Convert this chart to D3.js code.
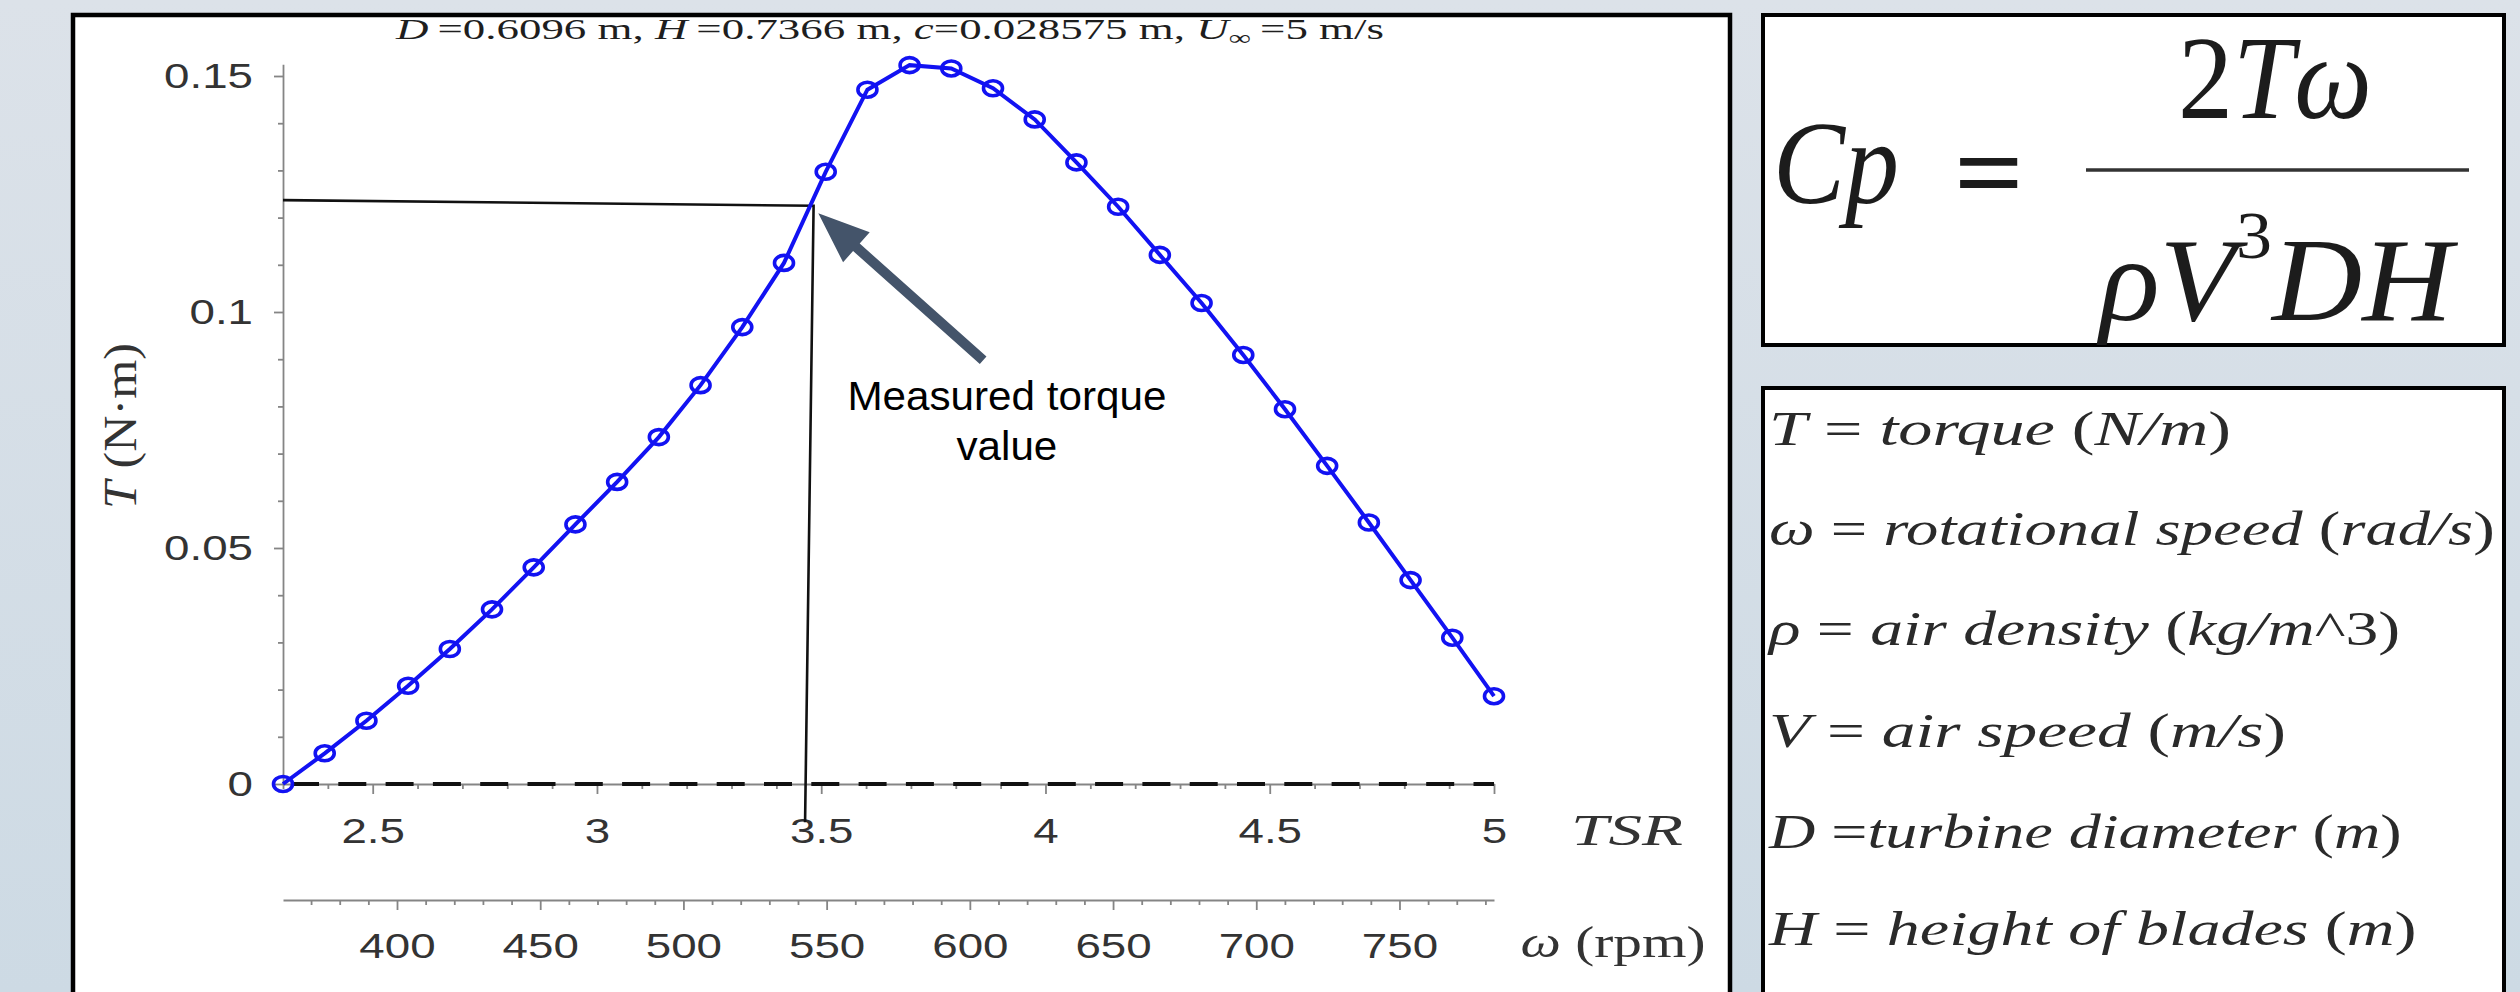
<!DOCTYPE html>
<html><head><meta charset="utf-8">
<script src="https://cdnjs.cloudflare.com/ajax/libs/d3/7.8.5/d3.min.js"></script>
<style>html,body{margin:0;padding:0;overflow:hidden;background:#d6dee7}</style>
</head><body><svg id="c" width="2520" height="992" xmlns="http://www.w3.org/2000/svg"></svg>
<script>
// ---------------- DATA ----------------
const tsr = [2.300, 2.393, 2.486, 2.579, 2.672, 2.766, 2.859, 2.952, 3.045, 3.138,
             3.231, 3.324, 3.417, 3.510, 3.603, 3.697, 3.790, 3.883, 3.976, 4.069,
             4.162, 4.255, 4.348, 4.441, 4.534, 4.628, 4.721, 4.814, 4.907, 5.000];
const torque = [0.0000, 0.0065, 0.0134, 0.0208, 0.0286, 0.0370, 0.0459, 0.0550, 0.0640, 0.0735,
                0.0845, 0.0968, 0.1104, 0.1297, 0.1471, 0.1523, 0.1516, 0.1474, 0.1408, 0.1317,
                0.1223, 0.1121, 0.1019, 0.0909, 0.0794, 0.0674, 0.0554, 0.0432, 0.0310, 0.0186];
const tsrTicks = [2.5, 3, 3.5, 4, 4.5, 5];
const tsrTickLabels = ["2.5", "3", "3.5", "4", "4.5", "5"];
const tsrMinorTicks = [2.3,2.4,2.6,2.7,2.8,2.9,3.1,3.2,3.3,3.4,3.6,3.7,3.8,3.9,4.1,4.2,4.3,4.4,4.6,4.7,4.8,4.9];
const torqueTicks = [0, 0.05, 0.1, 0.15];
const torqueTickLabels = ["0", "0.05", "0.1", "0.15"];
const torqueMinorTicks = [0.01,0.02,0.03,0.04,0.06,0.07,0.08,0.09,0.11,0.12,0.13,0.14];
const rpmTicks = [400, 450, 500, 550, 600, 650, 700, 750];
const rpmTickLabels = ["400", "450", "500", "550", "600", "650", "700", "750"];
const rpmMinorTicks = [370,380,390,410,420,430,440,460,470,480,490,510,520,530,540,560,570,580,590,
                       610,620,630,640,660,670,680,690,710,720,730,740,760,770,780];
const rpmDomain = [360.2, 783.0];
const tsrDomain = [2.3, 5.0];
const torqueDomain = [0, 0.1525];
// measured-torque guide lines (TSR, T)
const measuredLine = [[2.300, 0.1237], [3.483, 0.1225], [3.464, -0.0081]];
const arrowTip = [3.4935, 0.1209];
const arrowTail = [3.861, 0.0898];
const noteLines = ["Measured torque", "value"];
const notePos = [[3.914, 0.0792], [3.914, 0.0686]];
const defSymbols = ["T", "\u03c9", "\u03c1", "V", "D", "H"];
const defEquals = [" = ", " = ", " = ", " = ", " =", " = "];
const defWords = ["torque", "rotational speed", "air density", "air speed", "turbine diameter", "height of blades"];
const defUnits = ["N/m", "rad/s", "kg/m", "m/s", "m", "m"];
const defUnitSuffix = ["", "", "^3", "", "", ""];

// ---------------- LAYOUT ----------------
const W = 2520, H = 992;
const svg = d3.select('#c');
const defs = svg.append('defs');
const grad = defs.append('linearGradient').attr('id', 'bg').attr('x1', 0).attr('y1', 0).attr('x2', 0).attr('y2', 1);
grad.append('stop').attr('offset', '0%').attr('stop-color', '#dce2e9');
grad.append('stop').attr('offset', '100%').attr('stop-color', '#cddae4');
svg.append('rect').attr('width', W).attr('height', H).attr('fill', 'url(#bg)');

const SANS = "'Liberation Sans', Arial, Helvetica, sans-serif";
const SERIF = "'Liberation Serif', 'Times New Roman', serif";
const SX = 1.27;

// chart panel
svg.append('rect').attr('x', 73).attr('y', 15).attr('width', 1657).attr('height', 1010)
  .attr('fill', '#fff').attr('stroke', '#000').attr('stroke-width', 4.5);

const x = d3.scaleLinear().domain(tsrDomain).range([283, 1494]);
const y = d3.scaleLinear().domain(torqueDomain).range([784, 784 - 0.1525 * 4720]);
const xr = d3.scaleLinear().domain(rpmDomain).range([283, 1494]);

const axisColor = '#858585', labelColor = '#333';
function styleAxis(g) {
  g.selectAll('path,line').attr('stroke', axisColor).attr('stroke-width', 1.8);
  g.selectAll('text').attr('fill', labelColor).attr('font-family', SANS).attr('font-size', 36);
}

// TSR axis
const gxMinor = svg.append('g').attr('transform', `translate(0,${y(0)})`)
  .call(d3.axisBottom(x).tickValues(tsrMinorTicks).tickSize(5).tickFormat('').tickSizeOuter(0));
gxMinor.select('.domain').remove(); styleAxis(gxMinor);
const gx = svg.append('g').attr('transform', `translate(0,${y(0)})`)
  .call(d3.axisBottom(x).tickValues(tsrTicks).tickSize(10).tickPadding(23)
    .tickFormat((d, i) => tsrTickLabels[i]).tickSizeOuter(0));
styleAxis(gx);
gx.selectAll('text').attr('transform', `scale(${SX},1)`);

// torque axis
const gyMinor = svg.append('g').attr('transform', `translate(${x(tsrDomain[0])},0)`)
  .call(d3.axisLeft(y).tickValues(torqueMinorTicks).tickSize(5).tickFormat('').tickSizeOuter(0));
gyMinor.select('.domain').remove(); styleAxis(gyMinor);
const gy = svg.append('g').attr('transform', `translate(${x(tsrDomain[0])},0)`)
  .call(d3.axisLeft(y).tickValues(torqueTicks).tickSize(9).tickPadding(21)
    .tickFormat((d, i) => torqueTickLabels[i]).tickSizeOuter(0));
styleAxis(gy);
gy.selectAll('text').attr('x', -30 / SX).attr('transform', `scale(${SX},1)`);

// rpm axis
const RPMY = 900;
const grMinor = svg.append('g').attr('transform', `translate(0,${RPMY})`)
  .call(d3.axisBottom(xr).tickValues(rpmMinorTicks).tickSize(5).tickFormat('').tickSizeOuter(0));
grMinor.select('.domain').remove(); styleAxis(grMinor);
const gr = svg.append('g').attr('transform', `translate(0,${RPMY})`)
  .call(d3.axisBottom(xr).tickValues(rpmTicks).tickSize(10).tickPadding(22)
    .tickFormat((d, i) => rpmTickLabels[i]).tickSizeOuter(0));
styleAxis(gr);
gr.selectAll('text').attr('transform', `scale(${SX},1)`);

// zero dashed line
svg.append('line').attr('x1', x(tsrDomain[0])).attr('x2', x(tsrDomain[1]))
  .attr('y1', y(0)).attr('y2', y(0)).attr('stroke', '#111').attr('stroke-width', 4)
  .attr('stroke-dasharray', '28,19.3').attr('stroke-dashoffset', -8);

// measured guide lines
svg.append('path').attr('d', d3.line().x(d => x(d[0])).y(d => y(d[1]))(measuredLine))
  .attr('fill', 'none').attr('stroke', '#111').attr('stroke-width', 2.6);

// curve
const pts = tsr.map((t, i) => [t, torque[i]]);
const BLUE = '#1212f2';
svg.append('path').attr('d', d3.line().x(d => x(d[0])).y(d => y(d[1]))(pts))
  .attr('fill', 'none').attr('stroke', BLUE).attr('stroke-width', 4);
svg.append('g').selectAll('ellipse').data(pts).join('ellipse')
  .attr('cx', d => x(d[0])).attr('cy', d => y(d[1])).attr('rx', 9.5).attr('ry', 7.5)
  .attr('fill', 'none').attr('stroke', BLUE).attr('stroke-width', 3.6);

// helper to place a text horizontally stretched to a target width
function fitText(t, px, py, targetW, sy) {
  const w = t.node().getBBox().width;
  const s = targetW / w;
  t.attr('transform', `translate(${px},${py}) scale(${s},${sy || 1})`);
  return s;
}

// title
{
  const t = svg.append('text').attr('text-anchor', 'middle').attr('font-family', SERIF)
    .attr('font-size', 30).attr('fill', '#1e1e1e');
  const parts = [['D', 1], ['\u2009=0.6096 m, ', 0], ['H', 1], ['\u2009=0.7366 m, ', 0], ['c', 1],
                 ['=0.028575 m, ', 0], ['U', 1]];
  parts.forEach(p => t.append('tspan').text(p[0]).attr('font-style', p[1] ? 'italic' : 'normal'));
  t.append('tspan').text('\u221e').attr('font-size', 21).attr('dy', 6);
  t.append('tspan').text('\u2009=5 m/s').attr('dy', -6);
  fitText(t, 890, 39, 990);
}

// TSR label
{
  const t = svg.append('text').attr('text-anchor', 'middle').attr('font-family', SERIF)
    .attr('font-style', 'italic').attr('font-size', 44).attr('fill', '#333').text('TSR');
  fitText(t, 1627, 845, 112);
}
// omega (rpm) label
{
  const t = svg.append('text').attr('text-anchor', 'middle').attr('font-family', SERIF)
    .attr('font-size', 44).attr('fill', '#333');
  t.append('tspan').text('\u03c9').attr('font-style', 'italic');
  t.append('tspan').text(' (rpm)');
  fitText(t, 1613, 957, 185);
}
// y label
{
  const t = svg.append('text').attr('text-anchor', 'middle').attr('font-family', SERIF)
    .attr('font-size', 38).attr('fill', '#333');
  t.append('tspan').text('T').attr('font-style', 'italic');
  t.append('tspan').text(' (N\u00b7m)');
  const w = t.node().getBBox().width;
  t.attr('transform', `translate(136,426) rotate(-90) scale(${166 / w},1.2)`);
}

// arrow
{
  const tip = [x(arrowTip[0]), y(arrowTip[1])];
  const tail = [x(arrowTail[0]), y(arrowTail[1])];
  const dx = tail[0] - tip[0], dy = tail[1] - tip[1];
  const L = Math.hypot(dx, dy), ux = dx / L, uy = dy / L, px = -uy, py = ux;
  const hl = 51, hw = 20, sw = 5;
  const b = [tip[0] + ux * hl, tip[1] + uy * hl];
  const poly = [tip,
    [b[0] + px * hw, b[1] + py * hw], [b[0] + px * sw, b[1] + py * sw],
    [tail[0] + px * sw, tail[1] + py * sw], [tail[0] - px * sw, tail[1] - py * sw],
    [b[0] - px * sw, b[1] - py * sw], [b[0] - px * hw, b[1] - py * hw]];
  svg.append('polygon').attr('points', poly.map(p => p.join(',')).join(' ')).attr('fill', '#44546a');
}
// annotation text
{
  let s1 = null;
  noteLines.forEach((ln, i) => {
    const t = svg.append('text').attr('text-anchor', 'middle').attr('font-family', SANS)
      .attr('font-size', 40).attr('fill', '#000').text(ln);
    const px = x(notePos[i][0]), py = y(notePos[i][1]);
    if (i === 0) s1 = fitText(t, px, py, 319);
    else t.attr('transform', `translate(${px},${py}) scale(${s1},1)`);
  });
}

// formula box
svg.append('rect').attr('x', 1763).attr('y', 15).attr('width', 741).attr('height', 330)
  .attr('fill', '#fff').attr('stroke', '#000').attr('stroke-width', 4);
{
  const FC = '#1c1c1c';
  const cp = svg.append('text').attr('font-family', SERIF).attr('font-style', 'italic')
    .attr('font-size', 118).attr('fill', FC).text('Cp');
  fitText(cp, 1773, 203, 126);
  const eq = svg.append('text').attr('font-family', SERIF).attr('font-size', 112).attr('font-weight', 'bold')
    .attr('fill', FC).attr('text-anchor', 'middle').text('=');
  fitText(eq, 1989, 210, 70);
  const num = svg.append('text').attr('font-family', SERIF).attr('font-size', 118).attr('fill', FC)
    .attr('text-anchor', 'middle');
  num.append('tspan').text('2');
  num.append('tspan').text('T\u03c9').attr('font-style', 'italic');
  fitText(num, 2275, 118, 194);
  svg.append('line').attr('x1', 2086).attr('x2', 2469).attr('y1', 170).attr('y2', 170)
    .attr('stroke', '#333').attr('stroke-width', 3.4);
  const den = svg.append('text').attr('font-family', SERIF).attr('font-size', 118).attr('fill', FC)
    .attr('text-anchor', 'middle');
  den.append('tspan').text('\u03c1V').attr('font-style', 'italic');
  den.append('tspan').text('3').attr('font-size', 68).attr('dy', -62);
  den.append('tspan').text('DH').attr('font-style', 'italic').attr('dy', 62);
  fitText(den, 2276, 320, 362);
}

// definitions box
svg.append('rect').attr('x', 1763).attr('y', 388).attr('width', 741).attr('height', 640)
  .attr('fill', '#fff').attr('stroke', '#000').attr('stroke-width', 4);
{
  const baselines = [445, 545, 645, 747, 848, 945];
  const widths = [462, 726, 634, 517, 634, 649];
  defSymbols.forEach((s, i) => {
    const t = svg.append('text').attr('font-family', SERIF).attr('font-size', 49).attr('fill', '#2a2a2a');
    t.append('tspan').text(s).attr('font-style', 'italic');
    t.append('tspan').text(defEquals[i]);
    t.append('tspan').text(defWords[i]).attr('font-style', 'italic');
    t.append('tspan').text(' (');
    t.append('tspan').text(defUnits[i]).attr('font-style', 'italic');
    if (defUnitSuffix[i]) t.append('tspan').text(defUnitSuffix[i]);
    t.append('tspan').text(')');
    fitText(t, 1769, baselines[i], widths[i]);
  });
}
</script></body></html>
